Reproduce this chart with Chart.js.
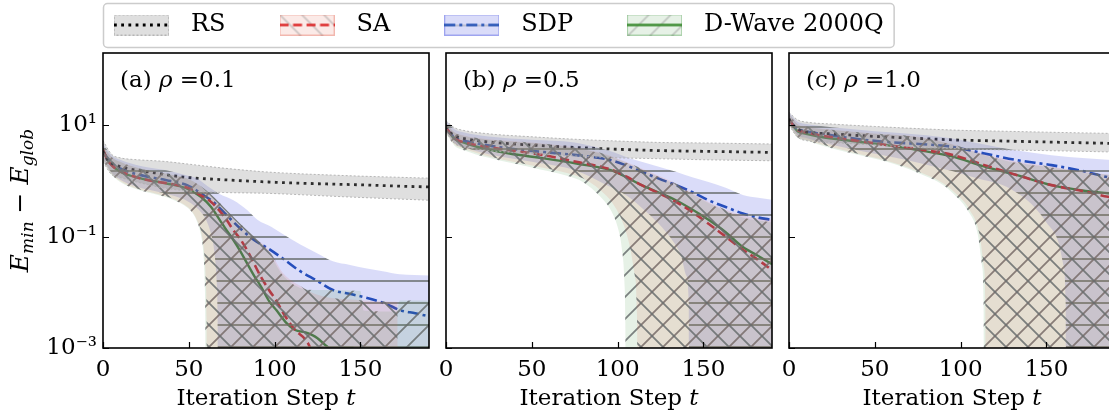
<!DOCTYPE html>
<html>
<head>
<meta charset="utf-8">
<script src="https://cdn.jsdelivr.net/npm/chart.js@4.4.1/dist/chart.umd.min.js"></script>
<style>
  html, body { margin: 0; padding: 0; background: #fff; overflow: hidden; }
  #fig { position: relative; width: 1109px; height: 416px; overflow: hidden; background: #fff; }
  #fig canvas { position: absolute; }
</style>
</head>
<body>
<div id="fig">
  <canvas id="pa" width="440" height="366" style="left:0px;top:50px"></canvas>
  <canvas id="pb" width="348" height="366" style="left:432px;top:50px"></canvas>
  <canvas id="pc" width="348" height="366" style="left:775px;top:50px"></canvas>
  <canvas id="leg" width="1109" height="250" style="left:0px;top:-31px"></canvas>
</div>
<script>
const SERIF = '"DejaVu Serif", "Liberation Serif", serif';

// ---- values: [iteration step t, E_min - E_glob] ----
// (a) rho = 0.1
const aRS   = [[0,3.4],[3,2.3],[6,2.0],[10,1.8],[20,1.55],[30,1.4],[40,1.25],[50,1.15],[70,1.05],[95,0.96],[120,0.9],[150,0.85],[170,0.81],[190,0.78]];
const aRSlo = [[0,2.2],[5,1.3],[10,1.15],[20,0.95],[35,0.75],[50,0.66],[70,0.62],[95,0.6],[140,0.52],[190,0.45]];
const aRShi = [[0,5.3],[5,3.0],[10,2.6],[20,2.4],[35,2.25],[50,2.0],[70,1.7],[95,1.45],[140,1.25],[190,1.12]];
const aSA   = [[0,3.6],[3,2.3],[6,1.8],[10,1.5],[20,1.15],[30,0.98],[40,0.88],[50,0.74],[57,0.55],[63,0.42],[68,0.29],[72,0.2],[76,0.13],[80,0.09],[84,0.057],[88,0.033],[92,0.019],[97,0.0107],[101,0.0071],[106,0.0038],[112,0.0021],[118,0.0014],[121,0.0009],[124,0.0002]];
const aSAlo = [[0,2.4],[5,1.35],[10,1.0],[20,0.72],[30,0.6],[40,0.49],[47,0.38],[52,0.28],[55,0.19],[57.5,0.11],[59,0.05],[60,0.015],[60.4,0.003],[60.8,1e-6],[190,1e-6]];
const aSAhi = [[0,4.2],[5,2.7],[10,2.2],[22,1.65],[37,1.35],[49,1.1],[57,0.8],[65,0.5],[72,0.3],[80,0.17],[88,0.1],[97,0.055],[105,0.022],[115,0.013],[125,0.009],[150,0.0072],[170,0.0068],[171.6,0.0066],[172,1e-6],[190,1e-6]];
const aSDP   = [[0,3.3],[5,2.1],[10,1.67],[22,1.27],[37,1.03],[49,0.84],[57,0.6],[65,0.4],[72,0.244],[80,0.14],[88,0.087],[96,0.062],[105,0.04],[114,0.025],[125,0.016],[134,0.011],[145,0.0092],[154,0.0079],[165,0.0062],[173,0.0048],[182,0.0042],[190,0.0037]];
const aSDPlo = [[0,2.5],[5,1.4],[10,1.05],[20,0.78],[30,0.66],[40,0.55],[50,0.42],[56,0.3],[60,0.2],[63,0.11],[65,0.05],[66.3,0.015],[66.8,0.003],[67.2,1e-6],[190,1e-6]];
const aSDPhi = [[0,4.6],[5,2.9],[10,2.4],[22,1.85],[37,1.55],[49,1.25],[55,1.1],[61,0.8],[68,0.58],[76,0.45],[84,0.3],[90,0.2],[98,0.15],[105,0.11],[115,0.072],[125,0.05],[134,0.036],[144,0.031],[153,0.027],[163,0.024],[173,0.021],[190,0.02]];
const aDW   = [[0,3.6],[3,2.3],[6,1.8],[10,1.46],[22,1.11],[37,0.9],[49,0.73],[57,0.52],[63,0.34],[68,0.2],[72,0.13],[76,0.087],[80,0.055],[84,0.033],[88,0.02],[92,0.0128],[97,0.0068],[101,0.0048],[107,0.0028],[112,0.0021],[118,0.0019],[122,0.0017],[125,0.0015],[130,0.0011],[132,0.001],[146,0.001]];
const aDWlo = [[0,2.3],[5,1.3],[10,0.96],[20,0.7],[30,0.58],[40,0.47],[47,0.37],[52,0.27],[55,0.18],[57,0.11],[58.5,0.05],[59.3,0.015],[59.6,0.003],[60,1e-6],[190,1e-6]];
const aDWhi = [[0,4.2],[5,2.7],[10,2.2],[22,1.65],[37,1.35],[49,1.1],[57,0.8],[65,0.5],[72,0.3],[80,0.17],[88,0.1],[97,0.05],[105,0.02],[115,0.012],[125,0.011],[150,0.0105],[152,0.0047],[171,0.0045],[173,0.0071],[190,0.0071]];

// (b) rho = 0.5
const bRS   = [[0,9.5],[3,7.2],[6,6.3],[10,5.8],[25,5.0],[50,4.4],[75,4.0],[100,3.7],[125,3.5],[150,3.4],[190,3.25]];
const bRSlo = [[0,7.5],[5,4.7],[10,4.1],[25,3.5],[50,3.1],[75,2.8],[100,2.6],[125,2.5],[150,2.4],[190,2.3]];
const bRShi = [[0,12],[5,9],[10,8.1],[25,7],[50,6.2],[75,5.6],[100,5.2],[125,4.9],[150,4.8],[190,4.6]];
const bSA   = [[0,9],[5,5.8],[10,5.0],[18,4.4],[37,3.56],[57,2.9],[76,2.2],[96,1.6],[105,1.2],[114,0.84],[124,0.6],[134,0.42],[144,0.27],[153,0.17],[163,0.1],[173,0.058],[182,0.038],[190,0.025]];
const bSAlo = [[0,7.3],[5,4.5],[10,3.8],[25,2.75],[50,1.9],[70,1.4],[80,1.1],[90,0.68],[97,0.4],[103,0.18],[107,0.07],[110,0.02],[111.3,0.004],[112,1e-6],[190,1e-6]];
const bSAhi = [[0,11],[5,7.5],[10,6.6],[25,5.6],[50,4.9],[75,4.0],[95,2.9],[114,1.67],[134,0.9],[153,0.42],[173,0.24],[190,0.2]];
const bSDP   = [[0,9],[5,6.0],[10,5.3],[18,4.7],[37,3.8],[57,3.3],[76,2.9],[96,2.36],[105,1.9],[114,1.46],[124,1.1],[134,0.84],[144,0.62],[153,0.45],[163,0.34],[173,0.26],[182,0.22],[190,0.2]];
const bSDPlo = [[0,7.6],[5,4.8],[10,4.1],[25,3.0],[50,2.2],[75,1.55],[95,0.8],[105,0.55],[114,0.33],[124,0.17],[132,0.085],[137,0.045],[140,0.02],[141.5,0.006],[142,1e-6],[190,1e-6]];
const bSDPhi = [[0,12],[5,8.5],[10,7.5],[25,6.3],[50,5.5],[75,4.9],[96,3.4],[105,2.7],[114,2.2],[124,1.8],[134,1.46],[144,1.15],[153,0.96],[163,0.75],[173,0.56],[182,0.5],[190,0.46]];
const bDW   = [[0,9],[5,5.7],[10,4.9],[18,4.1],[37,3.1],[57,2.54],[76,2.05],[96,1.56],[105,1.17],[114,0.84],[124,0.62],[134,0.45],[144,0.3],[153,0.2],[163,0.12],[173,0.065],[182,0.045],[190,0.032]];
const bDWlo = [[0,7],[5,4.3],[10,3.6],[25,2.6],[50,1.75],[70,1.25],[80,0.95],[90,0.52],[96,0.3],[100,0.15],[102.5,0.06],[104,0.015],[104.5,0.003],[105,1e-6],[190,1e-6]];
const bDWhi = [[0,11],[5,7.4],[10,6.5],[25,5.5],[50,4.8],[75,3.9],[95,2.8],[114,1.6],[134,0.85],[153,0.4],[173,0.22],[190,0.18]];

// (c) rho = 1.0
const cRS   = [[0,13],[3,9.5],[6,8.3],[10,7.6],[25,7.0],[50,6.3],[75,5.8],[100,5.4],[125,5.2],[150,5.0],[190,4.7]];
const cRSlo = [[0,10],[5,6.1],[10,5.3],[25,4.9],[50,4.4],[75,4.0],[100,3.8],[125,3.6],[150,3.5],[190,3.3]];
const cRShi = [[0,17],[5,12.5],[10,11.4],[25,10.5],[50,9.5],[75,8.7],[100,8.1],[125,7.8],[150,7.5],[190,7.1]];
const cSA   = [[0,12.5],[5,8.2],[10,7.4],[18,6.6],[37,5.4],[57,4.4],[76,3.66],[95,2.95],[114,1.92],[133,1.27],[153,0.84],[173,0.64],[186,0.52],[190,0.5]];
const cSAlo = [[0,10.2],[5,6.2],[10,5.5],[18,4.6],[37,3.25],[57,2.3],[76,1.45],[90,0.9],[96,0.64],[105,0.31],[111,0.11],[113.5,0.03],[114.4,0.006],[114.8,1e-6],[190,1e-6]];
const cSAhi = [[0,16],[5,10.5],[10,9.5],[25,8.3],[50,7.1],[75,6.2],[95,4.6],[114,3.0],[133,2.2],[153,1.8],[173,1.45],[190,1.27]];
const cSDP   = [[0,12.3],[5,8.6],[10,7.8],[18,7.1],[37,5.8],[57,5.0],[76,4.6],[95,4.1],[114,3.1],[133,2.36],[153,1.92],[173,1.46],[186,1.16],[190,1.1]];
const cSDPlo = [[0,10.5],[5,6.6],[10,5.9],[18,5.0],[37,3.7],[57,2.8],[76,2.1],[95,1.5],[110,1.1],[124,0.85],[135,0.55],[143,0.34],[150,0.18],[157,0.08],[160,0.03],[161.3,0.006],[161.8,1e-6],[190,1e-6]];
const cSDPhi = [[0,17],[5,11.5],[10,10.5],[25,9.2],[50,7.8],[75,6.8],[95,5.8],[114,4.5],[133,3.5],[153,2.9],[173,2.54],[190,2.36]];
const cDW   = [[0,12.5],[5,7.8],[10,7.0],[18,6.2],[37,5.2],[57,4.4],[76,3.56],[95,2.75],[114,1.8],[133,1.27],[153,0.84],[173,0.66],[186,0.6],[190,0.58]];
const cDWlo = [[0,10],[5,6],[10,5.3],[18,4.4],[37,3.1],[57,2.2],[76,1.36],[90,0.84],[95,0.62],[104,0.3],[110,0.11],[112.5,0.03],[113.4,0.006],[113.8,1e-6],[190,1e-6]];
const cDWhi = [[0,16],[5,10.3],[10,9.3],[25,8.2],[50,7.0],[75,6.1],[95,4.5],[114,2.9],[133,2.1],[153,1.75],[173,1.42],[190,1.25]];

const seriesNames = ['RS', 'SA', 'SDP', 'D-Wave 2000Q'];
const xTicks = [0, 50, 100, 150];
const yTicks = [1e-3, 1e-1, 1e1];
const yTickLabels = ['10\u207B\u00B3', '10\u207B\u00B9', '10\u00B9'];
const panelLabels = ['(a)', '(b)', '(c)'];
const rhoValues = ['0.1', '0.5', '1.0'];

// ---- styles ----
const LINE = {
  RS:  { color: '#000000', width: 2.8, dash: [2.8, 4.4] },
  SA:  { color: '#dc2828', width: 2.6, dash: [9, 4.5] },
  SDP: { color: '#2352b5', width: 2.6, dash: [11, 4, 3, 4] },
  DW:  { color: '#3c8c32', width: 2.4, dash: [] }
};
const FILL = {
  RS: 'rgba(150,150,150,0.3)',
  SA: 'rgba(225,90,70,0.13)',
  SDP: 'rgba(50,60,220,0.18)',
  DW: 'rgba(60,150,60,0.13)'
};
const HATCH = 'rgba(105,110,110,0.85)';
const HATCH_LEG = 'rgba(150,150,150,0.45)';

function hatchTile(fill, kind, lineColor) {
  const s = 22;
  const c = document.createElement('canvas');
  c.width = s; c.height = s;
  const g = c.getContext('2d');
  g.fillStyle = fill;
  g.fillRect(0, 0, s, s);
  g.strokeStyle = lineColor;
  g.lineWidth = 1.8;
  g.beginPath();
  if (kind === '/') {
    g.moveTo(0, s); g.lineTo(s, 0);
    g.moveTo(-3, 3); g.lineTo(3, -3);
    g.moveTo(s - 3, s + 3); g.lineTo(s + 3, s - 3);
  } else if (kind === '\\') {
    g.moveTo(0, 0); g.lineTo(s, s);
    g.moveTo(s - 3, -3); g.lineTo(s + 3, 3);
    g.moveTo(-3, s - 3); g.lineTo(3, s + 3);
  } else if (kind === '-') {
    g.moveTo(0, s / 2); g.lineTo(s, s / 2);
  }
  g.stroke();
  return c;
}

const pts = arr => arr.map(p => ({ x: p[0], y: p[1] }));

function fontOf(p, base) {
  return (p.it ? 'italic ' : '') + (p.size || base) + 'px ' + SERIF;
}
function drawRich(ctx, parts, x, y, align, base) {
  let w = 0;
  parts.forEach(p => { ctx.font = fontOf(p, base); p.w = ctx.measureText(p.t).width; w += p.w; });
  let cx = align === 'center' ? x - w / 2 : x;
  parts.forEach(p => { ctx.font = fontOf(p, base); ctx.fillText(p.t, cx, y + (p.dy || 0)); cx += p.w; });
}

// frame, inward ticks, titles
const framePlugin = {
  id: 'frame',
  afterDatasetsDraw(chart) {
    const { ctx, chartArea: a, scales: { x, y } } = chart;
    ctx.save();
    ctx.strokeStyle = '#000';
    ctx.lineWidth = 1.2;
    ctx.beginPath();
    xTicks.forEach(v => {
      const px = Math.round(x.getPixelForValue(v)) + 0.5;
      ctx.moveTo(px, a.bottom); ctx.lineTo(px, a.bottom - 6);
    });
    yTicks.forEach(v => {
      const py = Math.round(y.getPixelForValue(v)) + 0.5;
      ctx.moveTo(a.left, py); ctx.lineTo(a.left + 6, py);
    });
    ctx.stroke();
    ctx.lineWidth = 1.6;
    ctx.strokeRect(a.left, a.top, a.right - a.left, a.bottom - a.top);
    ctx.restore();
  },
  afterDraw(chart, args, opts) {
    const { ctx, chartArea: a } = chart;
    ctx.save();
    ctx.fillStyle = '#000';
    ctx.textBaseline = 'alphabetic';
    // panel label
    drawRich(ctx, [{ t: opts.label + ' ' }, { t: '\u03C1', it: true }, { t: ' =' + opts.rho }], a.left + 17, a.top + 34, 'left', 23);
    // x title
    drawRich(ctx, [{ t: 'Iteration Step ' }, { t: 't', it: true }], (a.left + a.right) / 2, 355, 'center', 23);
    // y title
    if (opts.yTitle) {
      ctx.translate(28, (a.top + a.bottom) / 2);
      ctx.rotate(-Math.PI / 2);
      drawRich(ctx, [
        { t: 'E', it: true }, { t: 'min', it: true, size: 17, dy: 5 },
        { t: ' \u2212 ' },
        { t: 'E', it: true }, { t: 'glob', it: true, size: 17, dy: 5 }
      ], 0, 0, 'center', 25);
    }
    ctx.restore();
  }
};

function buildDatasets(ctx, d) {
  const ds = [];
  const band = (lo, hi, bg, edge) => {
    ds.push({ data: pts(lo), borderWidth: edge ? 1 : 0, borderColor: edge, borderDash: [2, 2], pointRadius: 0, fill: false, clip: 0 });
    ds.push({ data: pts(hi), borderWidth: edge ? 1 : 0, borderColor: edge, borderDash: [2, 2], pointRadius: 0, fill: '-1', backgroundColor: bg, clip: 0 });
  };
  band(d.RS[1], d.RS[2], FILL.RS, 'rgba(175,175,175,0.9)');
  band(d.SA[1], d.SA[2], ctx.createPattern(hatchTile(FILL.SA, '\\', HATCH), 'repeat'));
  band(d.DW[1], d.DW[2], ctx.createPattern(hatchTile(FILL.DW, '/', HATCH), 'repeat'));
  band(d.SDP[1], d.SDP[2], ctx.createPattern(hatchTile(FILL.SDP, '-', HATCH), 'repeat'));
  ['RS', 'SA', 'SDP', 'DW'].forEach(k => {
    ds.push({
      data: pts(d[k][0]), borderColor: LINE[k].color, borderWidth: LINE[k].width,
      borderDash: LINE[k].dash, pointRadius: 0, fill: false, clip: 0
    });
  });
  return ds;
}

function makePanel(id, i, d, yAxisWidth, padRight) {
  const canvas = document.getElementById(id);
  const ctx = canvas.getContext('2d');
  const first = i === 0;
  return new Chart(canvas, {
    type: 'line',
    data: { datasets: buildDatasets(ctx, d) },
    options: {
      responsive: false,
      animation: false,
      devicePixelRatio: 1,
      events: [],
      elements: { line: { cubicInterpolationMode: 'monotone' } },
      layout: { autoPadding: false, padding: { top: 3, right: padRight, left: 0, bottom: 0 } },
      scales: {
        x: {
          type: 'linear', min: 0, max: 190,
          grid: { display: false, drawTicks: false },
          border: { display: false },
          ticks: { color: '#000', font: { family: SERIF, size: 23 }, padding: 8, autoSkip: false, maxRotation: 0 },
          afterBuildTicks: s => { s.ticks = xTicks.map(v => ({ value: v })); },
          afterFit: s => { s.height = 68; s.paddingLeft = 0; s.paddingRight = 0; }
        },
        y: {
          type: 'logarithmic', min: 1e-3, max: 198,
          grid: { display: false, drawTicks: false },
          border: { display: false },
          ticks: {
            display: first, color: '#000', font: { family: SERIF, size: 23 }, padding: 6,
            callback: (v, idx) => yTickLabels[idx]
          },
          afterBuildTicks: s => { s.ticks = yTicks.map(v => ({ value: v })); },
          afterFit: s => { s.width = yAxisWidth; s.paddingTop = 0; s.paddingBottom = 0; }
        }
      },
      plugins: {
        legend: { display: false },
        tooltip: { enabled: false },
        frame: { label: panelLabels[i], rho: rhoValues[i], yTitle: first }
      }
    },
    plugins: [framePlugin]
  });
}

makePanel('pa', 0, { RS: [aRS, aRSlo, aRShi], SA: [aSA, aSAlo, aSAhi], SDP: [aSDP, aSDPlo, aSDPhi], DW: [aDW, aDWlo, aDWhi] }, 103, 11);
makePanel('pb', 1, { RS: [bRS, bRSlo, bRShi], SA: [bSA, bSAlo, bSAhi], SDP: [bSDP, bSDPlo, bSDPhi], DW: [bDW, bDWlo, bDWhi] }, 14, 8);
makePanel('pc', 2, { RS: [cRS, cRSlo, cRShi], SA: [cSA, cSAlo, cSAhi], SDP: [cSDP, cSDPlo, cSDPhi], DW: [cDW, cDWlo, cDWhi] }, 14, 8);

// ---- legend ----
function legendHandle(key, kind) {
  const c = document.createElement('canvas');
  c.width = 55; c.height = 21;
  const g = c.getContext('2d');
  g.fillStyle = kind ? g.createPattern(hatchTile(FILL[key], kind, HATCH_LEG), 'repeat') : FILL[key];
  g.fillRect(0, 0, 55, 21);
  g.strokeStyle = key === 'RS' ? 'rgba(175,175,175,0.9)' : FILL[key].replace(/[\d.]+\)$/, '0.35)');
  g.lineWidth = 1;
  if (key === 'RS') g.setLineDash([2, 2]);
  g.strokeRect(0.5, 0.5, 54, 20);
  g.setLineDash(LINE[key].dash);
  g.strokeStyle = LINE[key].color;
  g.lineWidth = LINE[key].width;
  g.beginPath();
  g.moveTo(0, 10.5); g.lineTo(55, 10.5);
  g.stroke();
  return c;
}
const handles = [legendHandle('RS'), legendHandle('SA', '\\'), legendHandle('SDP', '-'), legendHandle('DW', '/')];

const legendFrame = {
  id: 'legendFrame',
  beforeDraw(chart) {
    const hb = chart.legend.legendHitBoxes;
    if (!hb || !hb.length) return;
    const last = hb[hb.length - 1];
    const cy = hb[0].top + hb[0].height / 2;
    const x0 = hb[0].left - 1, x1 = last.left + last.width + 10;
    const y0 = cy - 22, y1 = cy + 22;
    const ctx = chart.ctx;
    ctx.save();
    ctx.beginPath();
    ctx.roundRect(x0 + 0.5, y0 + 0.5, x1 - x0, y1 - y0, 4);
    ctx.fillStyle = 'rgba(255,255,255,0.9)';
    ctx.fill();
    ctx.strokeStyle = '#cccccc';
    ctx.lineWidth = 1.5;
    ctx.stroke();
    ctx.restore();
  }
};

new Chart(document.getElementById('leg'), {
  type: 'line',
  data: { datasets: seriesNames.map(n => ({ label: n, data: [] })) },
  options: {
    responsive: false,
    animation: false,
    devicePixelRatio: 1,
    events: [],
    layout: { padding: { left: 60 } },
    scales: { x: { display: false }, y: { display: false } },
    plugins: {
      tooltip: { enabled: false },
      legend: {
        display: true, position: 'top', align: 'start',
        labels: {
          usePointStyle: true, pointStyleWidth: 75, padding: 44, color: '#000',
          font: { family: SERIF, size: 24 },
          generateLabels: chart => chart.data.datasets.map((d, i) => ({
            text: d.label, pointStyle: handles[i], datasetIndex: i, hidden: false,
            fillStyle: 'transparent', strokeStyle: 'transparent', lineWidth: 0, fontColor: '#000'
          }))
        }
      }
    }
  },
  plugins: [legendFrame]
});
</script>
</body>
</html>
